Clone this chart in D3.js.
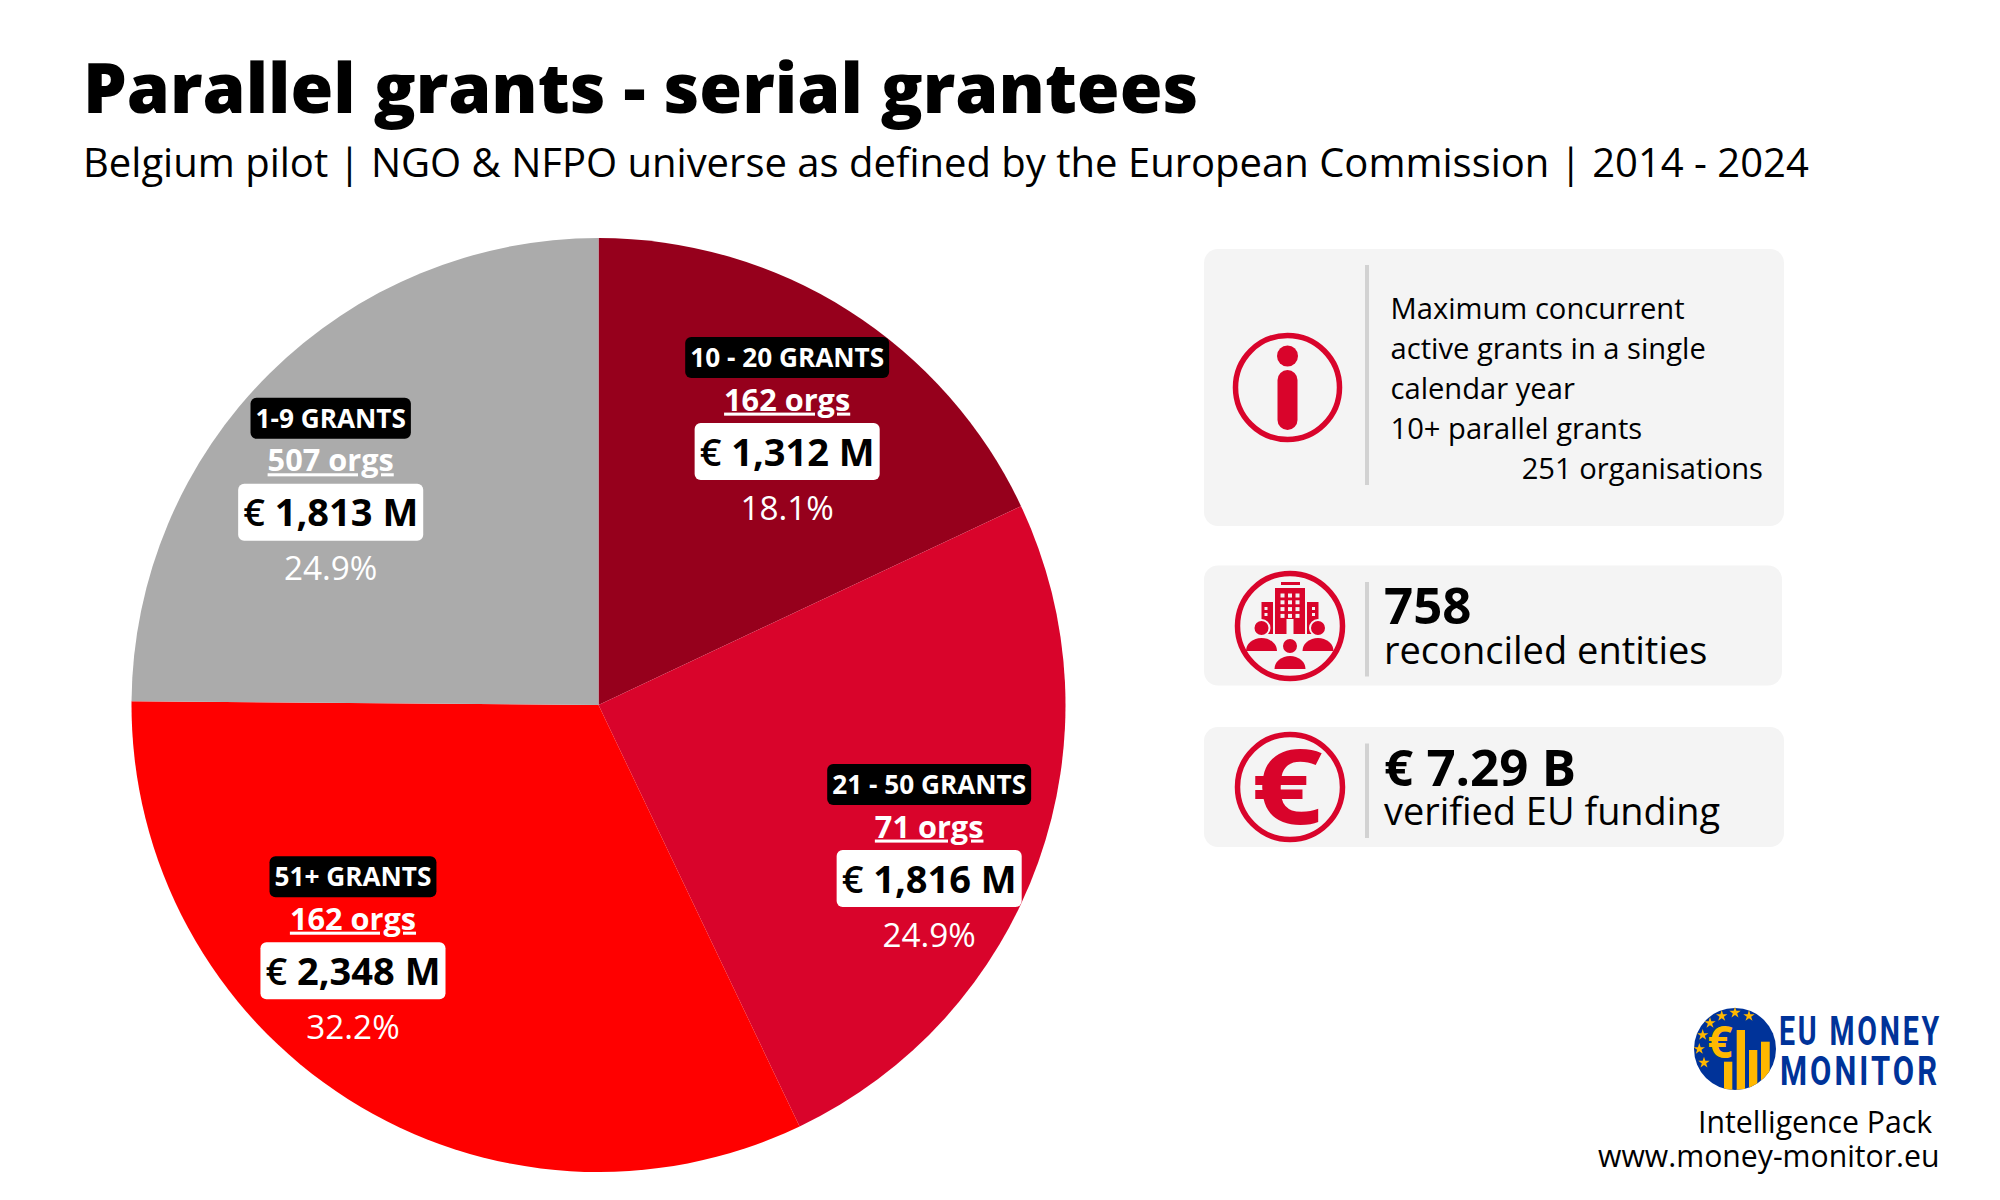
<!DOCTYPE html>
<html><head><meta charset="utf-8">
<script src="https://cdn.jsdelivr.net/npm/d3@7"></script>
<style>html,body{margin:0;padding:0;background:#fff}svg{display:block}text{font-family:"Open Sans",sans-serif}</style>
</head><body><svg id="c" width="2000" height="1200"></svg>
<script>
const categories=["10 - 20 GRANTS","21 - 50 GRANTS","51+ GRANTS","1-9 GRANTS"];
const orgs=["162 orgs","71 orgs","162 orgs","507 orgs"];
const funding=[1312,1816,2348,1813];
const shares=["18.1%","24.9%","32.2%","24.9%"];
const moneyLabels=["1,312 M","1,816 M","2,348 M","1,813 M"];
const sliceColors=["#96001C","#D9042B","#FF0000","#ABABAB"];
const infoLines=["Maximum concurrent","active grants in a single","calendar year","10+ parallel grants"];

const svg=d3.select("#c");
const cx=598.5,cy=705,R=467,labelR=R*0.72;
const labelNudge=[[8.5,30.5],[14,60.5],[-65,-18],[-31,46]];
const T=(x,y,s,size,opt={})=>svg.append("text").attr("x",x).attr("y",y).text(s).attr("font-size",size)
  .attr("font-weight",opt.w||400).attr("fill",opt.f||"#000").attr("text-anchor",opt.a||"start");

T(83,112.5,"Parallel grants - serial grantees",69.3,{w:800});
T(83,176.5,"Belgium pilot | NGO & NFPO universe as defined by the European Commission | 2014 - 2024",40);

const pie=d3.pie().sort(null).value(d=>d)(funding);
const arc=d3.arc().innerRadius(0).outerRadius(R);
const g=svg.append("g").attr("transform",`translate(${cx},${cy})`);
g.selectAll("path").data(pie).join("path").attr("d",arc).attr("fill",(d,i)=>sliceColors[i]);
const lab=d3.arc().innerRadius(labelR).outerRadius(labelR);
pie.forEach((d,i)=>{
  const [a,b]=lab.centroid(d);
  const x=cx+a+labelNudge[i][0],y=cy+b+labelNudge[i][1];
  const pill=svg.append("rect").attr("y",y-114.5).attr("height",41).attr("rx",6).attr("fill","#000");
  const t=T(x,y-84.5,categories[i],26.2,{w:700,f:"#fff",a:"middle"});
  const tw=t.node().getComputedTextLength();
  pill.attr("x",x-tw/2-5).attr("width",tw+10);
  T(x,y-41,orgs[i],30.7,{w:700,f:"#fff",a:"middle"}).attr("text-decoration","underline");
  const box=svg.append("rect").attr("y",y-28.5).attr("height",57).attr("rx",6).attr("fill","#fff");
  const m=T(x,y+14,"",38,{w:700,a:"middle"});
  m.append("tspan").attr("font-weight",600).text("€ ");
  m.append("tspan").text(moneyLabels[i]);
  const mw=m.node().getComputedTextLength();
  box.attr("x",x-mw/2-5).attr("width",mw+10);
  T(x,y+68,shares[i],33.3,{f:"#fff",a:"middle"});
});

// cards
const cards=[[1204,249,580,277,265,485],[1204,565.5,578,120,582,676.5],[1204,727,580,120,743.5,838]];
cards.forEach(c=>{
  svg.append("rect").attr("x",c[0]).attr("y",c[1]).attr("width",c[2]).attr("height",c[3]).attr("rx",14).attr("fill","#F4F4F4");
  svg.append("rect").attr("x",1365).attr("y",c[4]).attr("width",4).attr("height",c[5]-c[4]).attr("fill","#D2D2D2");
});
infoLines.forEach((l,i)=>T(1390.5,319+i*40,l,29.15));
T(1763,479,"251 organisations",29.15,{a:"end"});
T(1384,624,"758",51,{w:700});
T(1384,664,"reconciled entities",38);
T(1384,786,"€ 7.29 B",51,{w:700});
T(1384,825,"verified EU funding",37.9);

// icons
const red="#D9042B",bg="#F4F4F4";
const ring=(x,y,r)=>svg.append("circle").attr("cx",x).attr("cy",y).attr("r",r).attr("fill","none").attr("stroke",red).attr("stroke-width",5.5);
ring(1287.5,387.5,52);
svg.append("circle").attr("cx",1287.5).attr("cy",356).attr("r",10.5).attr("fill",red);
svg.append("rect").attr("x",1277.5).attr("y",370).attr("width",20).attr("height",60).attr("rx",10).attr("fill",red);
ring(1290,626,52.5);
const icon=svg.append("g").attr("fill",red);
const rr=(x,y,w,h,f)=>icon.append("rect").attr("x",x).attr("y",y).attr("width",w).attr("height",h).attr("fill",f||red);
rr(1281,582,19,3);rr(1275,588,30,46);
rr(1261.5,602,11.5,32);rr(1307,602,11.5,32);
rr(1264.5,607,3,3,bg);rr(1312,607,3,3,bg);rr(1264.5,613,3,3,bg);rr(1312,613,3,3,bg);
for(let r=0;r<4;r++)for(let c=0;c<3;c++)rr(1280.5+c*7.5,593.5+r*6.8,4,4,bg);
rr(1286.5,619,7,15,bg);
const person=(x,y)=>{
  icon.append("circle").attr("cx",x).attr("cy",y).attr("r",8).attr("stroke",bg).attr("stroke-width",2);
  icon.append("path").attr("d",`M${x-15.5},${y+23} a15.5,13 0 0 1 31,0 z`);
};
person(1261.5,628);person(1318,628);person(1290,646);

ring(1290,787,52.5);
svg.append("text").text("€").attr("font-size",104).attr("font-weight",700).attr("fill",red).attr("text-anchor","middle")
  .attr("transform","translate(1287,824) scale(1.2,1)");

// logo
const lc=[1735,1049],lr=41;
svg.append("clipPath").attr("id","lg").append("circle").attr("cx",lc[0]).attr("cy",lc[1]).attr("r",lr);
svg.append("circle").attr("cx",lc[0]).attr("cy",lc[1]).attr("r",lr).attr("fill","#003399");
const lg=svg.append("g").attr("clip-path","url(#lg)");
[[1724,1061.7,8.3,40],[1736.7,1030,8.3,70],[1749,1050,8.3,50],[1761,1041.7,8.7,58]].forEach(b=>
  lg.append("rect").attr("x",b[0]).attr("y",b[1]).attr("width",b[2]).attr("height",b[3]).attr("fill","#FFB800"));
T(1720,1058,"€",44,{w:700,f:"#FFB800",a:"middle"});
[[1735,1012.7],[1721.7,1016],[1749,1016],[1710,1023],[1702.7,1035],[1699.3,1049],[1704,1062.7]].forEach(p=>
  svg.append("path").attr("d",d3.symbol().type(d3.symbolStar).size(40)()).attr("transform",`translate(${p[0]},${p[1]})`).attr("fill","#FFB800"));
const L=(x,y,s,w)=>T(x,y,s,41,{w:700,f:"#003399"}).style("font-family","Roboto,sans-serif").style("letter-spacing","4px").attr("textLength",w).attr("lengthAdjust","spacingAndGlyphs");
L(1779,1045,"EU MONEY",163);
L(1780,1085,"MONITOR",160);
T(1932,1133,"Intelligence Pack",30.2,{a:"end"});
T(1939.5,1167,"www.money-monitor.eu",30.2,{a:"end"});
</script></body></html>
